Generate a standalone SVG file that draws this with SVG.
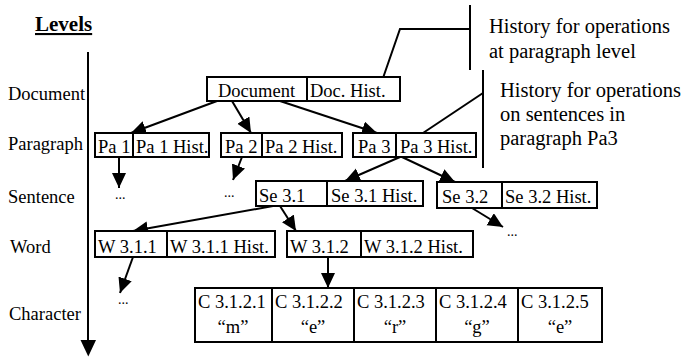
<svg xmlns="http://www.w3.org/2000/svg" width="690" height="357" viewBox="0 0 690 357">
<style>
.lv,.bx,.co,.dots,.title{font-family:'Liberation Serif','Times New Roman',serif;fill:#000}
.lv{font-size:18.5px}
.bx{font-size:18.5px}
.co{font-size:20.5px}
.dots{font-size:14px}
.title{font-size:21px;font-weight:bold;text-decoration:underline}
.box{fill:#fff;stroke:#000;stroke-width:2}
.ln{fill:none;stroke:#000;stroke-width:2}
.ar{fill:none;stroke:#000;stroke-width:2;marker-end:url(#ah)}
.mid{text-anchor:middle}
</style>
<defs>
<marker id="ah" markerUnits="userSpaceOnUse" markerWidth="16" markerHeight="15" refX="15" refY="7" orient="auto">
<path d="M0,0 L15,7 L0,14 z" fill="#000"/>
</marker>
</defs>
<rect x="0" y="0" width="690" height="357" fill="#fff"/>

<g id="levels">
<text class="title" x="35" y="31" font-family="Liberation Serif">Levels</text>
<line class="ln" x1="88" y1="52" x2="88" y2="342"/>
<path d="M80.5,340 L96,340 L88.3,356.5 z" fill="#000"/>
<text class="lv" x="8" y="100" font-family="Liberation Serif">Document</text>
<text class="lv" x="8" y="150" font-family="Liberation Serif">Paragraph</text>
<text class="lv" x="8" y="203" font-family="Liberation Serif">Sentence</text>
<text class="lv" x="10" y="253" font-family="Liberation Serif">Word</text>
<text class="lv" x="9" y="320" font-family="Liberation Serif">Character</text>
</g>

<g id="callout-paragraph">
<path class="ln" d="M383,78 L400,29 L470,29"/>
<line class="ln" x1="470" y1="5" x2="470" y2="70"/>
<text class="co" x="489" y="33" font-family="Liberation Serif">History for operations</text>
<text class="co" x="489" y="58" font-family="Liberation Serif">at paragraph level</text>
</g>

<g id="callout-sentence">
<line class="ln" x1="423" y1="133" x2="483" y2="93"/>
<line class="ln" x1="483" y1="70" x2="483" y2="168"/>
<text class="co" x="500" y="97" font-family="Liberation Serif">History for operations</text>
<text class="co" x="500" y="121" font-family="Liberation Serif">on sentences in</text>
<text class="co" x="500" y="145" font-family="Liberation Serif">paragraph Pa3</text>
</g>

<g id="connectors">
<line class="ar" x1="217" y1="101" x2="131" y2="133"/>
<line class="ar" x1="232" y1="101" x2="251" y2="133"/>
<line class="ar" x1="280" y1="101" x2="377" y2="133"/>
<line class="ar" x1="119" y1="157" x2="119" y2="188"/>
<line class="ar" x1="242" y1="157" x2="233" y2="180"/>
<line class="ar" x1="400" y1="157" x2="345" y2="181"/>
<line class="ar" x1="402" y1="157" x2="455" y2="182"/>
<line class="ar" x1="472" y1="208" x2="503" y2="227"/>
<line class="ar" x1="273" y1="206" x2="133" y2="231"/>
<line class="ar" x1="280" y1="206" x2="296" y2="231"/>
<line class="ar" x1="133" y1="257" x2="120" y2="293"/>
<line class="ar" x1="328" y1="257" x2="328" y2="288"/>
</g>

<g id="ellipses">
<text class="dots" x="115" y="199" font-family="Liberation Serif">...</text>
<text class="dots" x="224" y="197" font-family="Liberation Serif">...</text>
<text class="dots" x="507" y="236" font-family="Liberation Serif">...</text>
<text class="dots" x="118" y="304" font-family="Liberation Serif">...</text>
</g>

<g id="node-document">
<rect class="box" x="207" y="77" width="100" height="24"/>
<rect class="box" x="307" y="77" width="93" height="24"/>
<text class="bx" x="218" y="97" font-family="Liberation Serif">Document</text>
<text class="bx" x="310" y="97" font-family="Liberation Serif">Doc. Hist.</text>
</g>

<g id="node-pa1">
<rect class="box" x="95" y="133" width="38" height="24"/>
<rect class="box" x="133" y="133" width="76" height="24"/>
<text class="bx" x="98" y="153" font-family="Liberation Serif">Pa 1</text>
<text class="bx" x="136" y="153" font-family="Liberation Serif">Pa 1 Hist.</text>
</g>

<g id="node-pa2">
<rect class="box" x="221" y="133" width="41" height="24"/>
<rect class="box" x="262" y="133" width="80" height="24"/>
<text class="bx" x="225" y="153" font-family="Liberation Serif">Pa 2</text>
<text class="bx" x="265" y="153" font-family="Liberation Serif">Pa 2 Hist.</text>
</g>

<g id="node-pa3">
<rect class="box" x="353" y="133" width="43" height="24"/>
<rect class="box" x="396" y="133" width="80" height="24"/>
<text class="bx" x="358" y="153" font-family="Liberation Serif">Pa 3</text>
<text class="bx" x="400" y="153" font-family="Liberation Serif">Pa 3 Hist.</text>
</g>

<g id="node-se31">
<rect class="box" x="256" y="181" width="71" height="25"/>
<rect class="box" x="327" y="181" width="96" height="25"/>
<text class="bx" x="259" y="202" font-family="Liberation Serif">Se 3.1</text>
<text class="bx" x="331" y="202" font-family="Liberation Serif">Se 3.1 Hist.</text>
</g>

<g id="node-se32">
<rect class="box" x="437" y="182" width="65" height="26"/>
<rect class="box" x="502" y="182" width="95" height="26"/>
<text class="bx" x="442" y="203" font-family="Liberation Serif">Se 3.2</text>
<text class="bx" x="505" y="203" font-family="Liberation Serif">Se 3.2 Hist.</text>
</g>

<g id="node-w311">
<rect class="box" x="95" y="231" width="72" height="26"/>
<rect class="box" x="167" y="231" width="108" height="26"/>
<text class="bx" x="98" y="253" font-family="Liberation Serif">W 3.1.1</text>
<text class="bx" x="170" y="253" font-family="Liberation Serif">W 3.1.1 Hist.</text>
</g>

<g id="node-w312">
<rect class="box" x="287" y="231" width="74" height="26"/>
<rect class="box" x="361" y="231" width="112" height="26"/>
<text class="bx" x="290" y="253" font-family="Liberation Serif">W 3.1.2</text>
<text class="bx" x="364" y="253" font-family="Liberation Serif">W 3.1.2 Hist.</text>
</g>

<g id="node-c3121">
<rect class="box" x="195" y="288" width="77" height="54"/>
<text class="bx" x="198" y="308" font-family="Liberation Serif">C 3.1.2.1</text>
<text class="bx mid" x="233" y="333" font-family="Liberation Serif">&#8220;m&#8221;</text>
</g>
<g id="node-c3122">
<rect class="box" x="272" y="288" width="82" height="54"/>
<text class="bx" x="275" y="308" font-family="Liberation Serif">C 3.1.2.2</text>
<text class="bx mid" x="313" y="333" font-family="Liberation Serif">&#8220;e&#8221;</text>
</g>
<g id="node-c3123">
<rect class="box" x="354" y="288" width="82" height="54"/>
<text class="bx" x="357" y="308" font-family="Liberation Serif">C 3.1.2.3</text>
<text class="bx mid" x="395" y="333" font-family="Liberation Serif">&#8220;r&#8221;</text>
</g>
<g id="node-c3124">
<rect class="box" x="436" y="288" width="82" height="54"/>
<text class="bx" x="439" y="308" font-family="Liberation Serif">C 3.1.2.4</text>
<text class="bx mid" x="477" y="333" font-family="Liberation Serif">&#8220;g&#8221;</text>
</g>
<g id="node-c3125">
<rect class="box" x="518" y="288" width="84" height="54"/>
<text class="bx" x="521" y="308" font-family="Liberation Serif">C 3.1.2.5</text>
<text class="bx mid" x="560" y="333" font-family="Liberation Serif">&#8220;e&#8221;</text>
</g>
</svg>
